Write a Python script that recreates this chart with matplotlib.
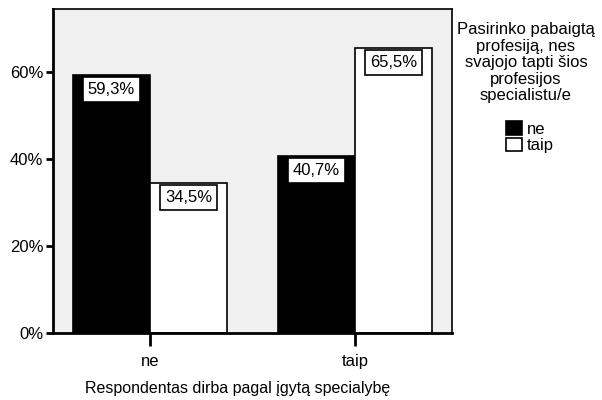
import numpy as np
import matplotlib.pyplot as plt
from matplotlib.patches import Patch

plt.rcParams['font.family'] = ['Liberation Sans', 'DejaVu Sans']

# Data

categories = ['ne', 'taip']
series_names = ['ne', 'taip']
ne_vals = [59.3, 40.7]
taip_vals = [34.5, 65.5]
val_labels_ne = ['59,3%', '40,7%']
val_labels_taip = ['34,5%', '65,5%']
y_ticks = [0, 20, 40, 60]
y_tick_labels = ['0%', '20%', '40%', '60%']

legend_title = 'Pasirinko pabaigtą\nprofesiją, nes\nsvajojo tapti šios\nprofesijos\nspecialistu/e'
x_label = 'Respondentas dirba pagal įgytą specialybę'

fig = plt.figure(figsize=(6.02, 4.0), dpi=100)
ax = fig.add_axes([53 / 602, 67 / 400, 399 / 602, 324 / 400])
ax.set_facecolor('#f0f0f0')

x = np.arange(len(categories))
w = 77 / 205

bars_ne = ax.bar(x - w / 2, ne_vals, w, color='black', edgecolor='black', linewidth=1.2)
bars_taip = ax.bar(x + w / 2, taip_vals, w, color='white', edgecolor='black', linewidth=1.2)

fs = 12
pad = 0.3
for bars, labels in [(bars_ne, val_labels_ne), (bars_taip, val_labels_taip)]:
    for b, lab in zip(bars, labels):
        ax.annotate(lab, (b.get_x() + b.get_width() / 2, b.get_height()),
                    xytext=(0, -pad * fs - 1.2), textcoords='offset points',
                    ha='center', va='top', fontsize=fs,
                    bbox=dict(boxstyle='square,pad=%s' % pad, fc='white', ec='black', lw=1.2))

ax.set_xlim(-0.473, 1.473)
ax.set_ylim(0, 74.5)
ax.set_yticks(y_ticks)
ax.set_yticklabels(y_tick_labels, fontsize=fs)
ax.set_xticks(x)
ax.set_xticklabels(categories, fontsize=fs)
ax.tick_params(axis='y', length=5, width=2, pad=2)
ax.tick_params(axis='x', length=9, width=2, pad=6)

for s in ax.spines.values():
    s.set_linewidth(1.2)
ax.spines['left'].set_linewidth(2)
ax.spines['bottom'].set_linewidth(2)

fig.text(238 / 602, 1 - 388 / 400, x_label, fontsize=11.5, ha='center', va='center')

# legend title drawn separately so its spacing can match
fig.text(526 / 602, 1 - 22 / 400, legend_title, fontsize=fs, ha='center', va='top',
         multialignment='center', linespacing=1.13)

handles = [Patch(facecolor='black', edgecolor='black', lw=1.2),
           Patch(facecolor='white', edgecolor='black', lw=1.2)]
fig.legend(handles, series_names, fontsize=fs,
           loc='upper left', bbox_to_anchor=(506 / 602, 1 - 121 / 400), frameon=False,
           borderpad=0, borderaxespad=0, handlelength=0.95, handleheight=0.9,
           handletextpad=0.3, labelspacing=0.05)

fig.savefig('out.png', dpi=100)
